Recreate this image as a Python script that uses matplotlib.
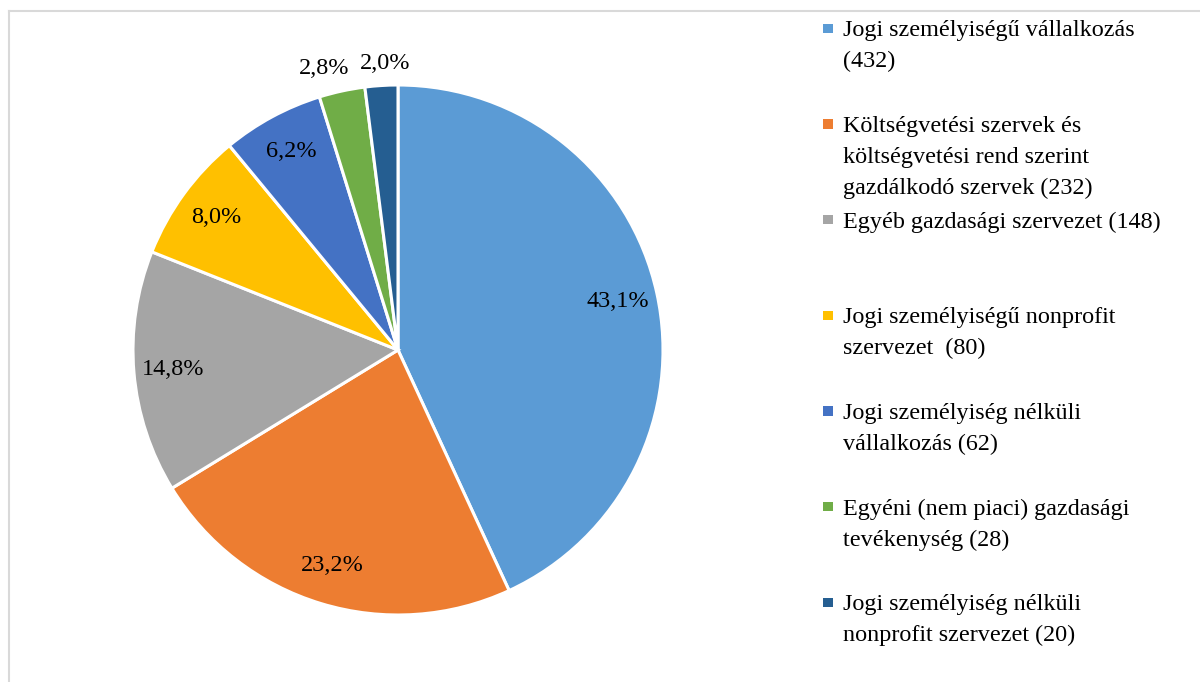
# Pie chart of organisation types
import numpy as np
import matplotlib.pyplot as plt
from matplotlib.patches import Rectangle
from matplotlib.lines import Line2D

# data
labels = ['Jogi személyiségű vállalkozás\n(432)',
          'Költségvetési szervek és\nköltségvetési rend szerint\ngazdálkodó szervek (232)',
          'Egyéb gazdasági szervezet (148)',
          'Jogi személyiségű nonprofit\nszervezet  (80)',
          'Jogi személyiség nélküli\nvállalkozás (62)',
          'Egyéni (nem piaci) gazdasági\ntevékenység (28)',
          'Jogi személyiség nélküli\nnonprofit szervezet (20)']
counts = [432, 232, 148, 80, 62, 28, 20]
colors = ['#5B9BD5', '#ED7D31', '#A5A5A5', '#FFC000', '#4472C4', '#70AD47', '#255E91']

plt.rcParams['font.family'] = ['Liberation Serif', 'DejaVu Serif']

W, H = 1200, 682
fig = plt.figure(figsize=(12, 6.82), dpi=100)
fig.patch.set_facecolor('white')

# pie axes: centre (398, 350), radius ~265 px
r = 265
cx, cy = 398, 350
ax = fig.add_axes([(cx - r) / W, (H - cy - r) / H, 2 * r / W, 2 * r / H])

fmt = lambda p: ('%.1f%%' % p).replace('.', ',')
wedges, texts, autotexts = ax.pie(counts, colors=colors, startangle=90, counterclock=False,
                                  autopct=fmt, pctdistance=0.85,
                                  wedgeprops=dict(edgecolor='white', linewidth=2.2),
                                  textprops=dict(fontsize=17.5, color='black'))
ax.set_aspect('equal')
ax.set_xlim(-1, 1)
ax.set_ylim(-1, 1)

# small slices: labels outside
for w, t, dx in zip(wedges[5:], autotexts[5:], [-0.05, 0.02]):
    ang = np.deg2rad((w.theta1 + w.theta2) / 2)
    t.set_position((1.09 * np.cos(ang) + dx, 1.085 * np.sin(ang)))

# legend drawn as text entries, evenly spaced
tops = np.linspace(20, 594, 7)
for y, lab, c in zip(tops, labels, colors):
    fig.text(843 / W, 1 - y / H, lab, fontsize=17.4, va='top', ha='left', linespacing=1.62)
    fig.patches.append(Rectangle((823 / W, 1 - (y + 13) / H), 9.5 / W, 9.5 / H,
                                 facecolor=c, edgecolor='none', transform=fig.transFigure))

# frame lines (top and left)
fig.add_artist(Line2D([9 / W, 9 / W], [0, 1 - 11 / H], color='#d9d9d9', lw=1.5))
fig.add_artist(Line2D([9 / W, 1], [1 - 11 / H, 1 - 11 / H], color='#d9d9d9', lw=1.5))

fig.savefig('out.png', dpi=100)
